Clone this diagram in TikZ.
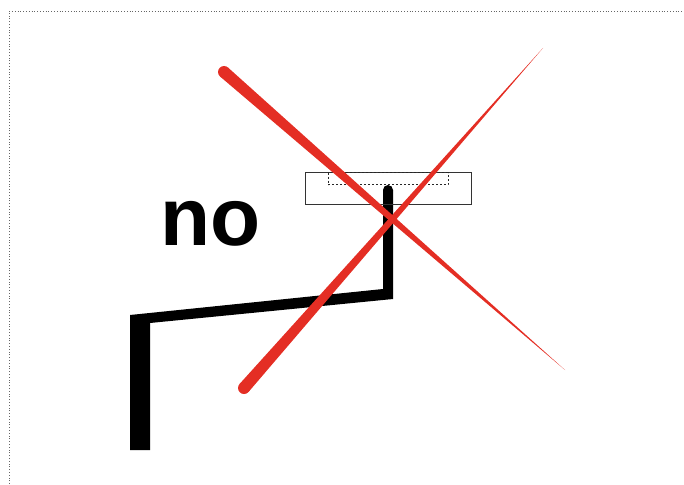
\documentclass[tikz,border=0pt]{standalone}
\usepackage{fontspec}
\setsansfont{Liberation Sans}
\usetikzlibrary{calc}
\definecolor{CrossRed}{RGB}{228,46,36}
\tikzset{
	taper/.style={fill=CrossRed},
	limb/.style={fill=black},
	outline/.style={draw=black!80,line width=0.7pt},
	inset/.style={draw=black!85,dash pattern=on 2pt off 2pt,line width=0.8pt},
	frame/.style={draw=black!60,dotted,line width=0.8pt},
}
\begin{document}
\begin{tikzpicture}[x=1pt,y=-1pt]
			\useasboundingbox (0,0) rectangle (684,484);
			\draw[frame] (9,484) -- (9,11) -- (684,11);
			% black stroke
			\coordinate (a) at (130,450);
			\coordinate (b) at (130,315);
			\coordinate (c) at (383,289);
			\coordinate (d) at (383,190);
			\coordinate (e) at (393,190);
			\coordinate (f) at (393,299);
			\coordinate (g) at (150,323);
			\coordinate (h) at (150,450);
			\fill[limb] (a) -- (b) -- (c) -- (d) -- (e) -- (f) -- (g) -- (h) -- cycle;
			\fill[limb] ($(d)!0.5!(e)$) circle (5);
			\node[font=\sffamily\bfseries\fontsize{82}{82}\selectfont,anchor=base,inner sep=0pt] (no) at (210.5,245) {no};
			\node[outline,minimum width=166pt,minimum height=32pt,inner sep=0pt] (box) at (388,188) {};
			\node[inset,minimum width=120pt,minimum height=12pt,inner sep=0pt] (slot) at (388,178.5) {};
			% red cross
			\coordinate (r1) at (224,72);
			\coordinate (r2) at (565,370);
			\coordinate (r3) at (244,388);
			\coordinate (r4) at (543,48);
			\fill[taper] ($(r1)!6pt!90:(r2)$) -- (r2) -- ($(r1)!6pt!-90:(r2)$) -- cycle;
			\fill[taper] (r1) circle (6);
			\fill[taper] ($(r3)!6pt!90:(r4)$) -- (r4) -- ($(r3)!6pt!-90:(r4)$) -- cycle;
			\fill[taper] (r3) circle (6);
		\end{tikzpicture}
\end{document}
